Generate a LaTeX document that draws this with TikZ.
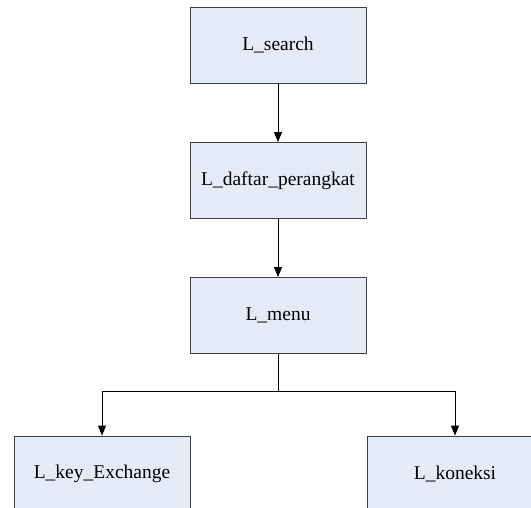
\documentclass[tikz,border=0pt]{standalone}
\usepackage{fontspec}
\setmainfont{Liberation Serif}
\newfontfamily\modulfont{Liberation Serif}
\usetikzlibrary{arrows.meta,positioning}
\definecolor{boxfill}{HTML}{E5EBF6}
\definecolor{boxline}{HTML}{3F3F3F}
\tikzset{modul/.style={draw=boxline,fill=boxfill,line width=0.9pt,minimum width=176pt,minimum height=76pt,inner sep=0pt,font=\modulfont\fontsize{19.5}{23}\selectfont}}

\begin{document}
\begin{tikzpicture}[x=1pt,y=-1pt,>={Triangle[length=10pt,width=8pt]},line width=0.9pt]
\useasboundingbox (0,0) rectangle (531,508);
\node[modul] (search) at (278,45) {L\_search};
\node[modul] (daftar) at (278,180.5) {L\_daftar\_perangkat};
\node[modul] (menu) at (278,315.5) {L\_menu};
\node[modul] (key) at (102,474) {L\_key\_Exchange};
\node[modul] (koneksi) at (455,474) {L\_koneksi};
\coordinate (cabang) at (278,391);
\draw[->] (search) -- (daftar);
\draw[->] (daftar) -- (menu);
\draw (menu) -- (cabang);
\draw[->] (cabang) -| (key);
\draw[->] (cabang) -| (koneksi);
\end{tikzpicture}
\end{document}
